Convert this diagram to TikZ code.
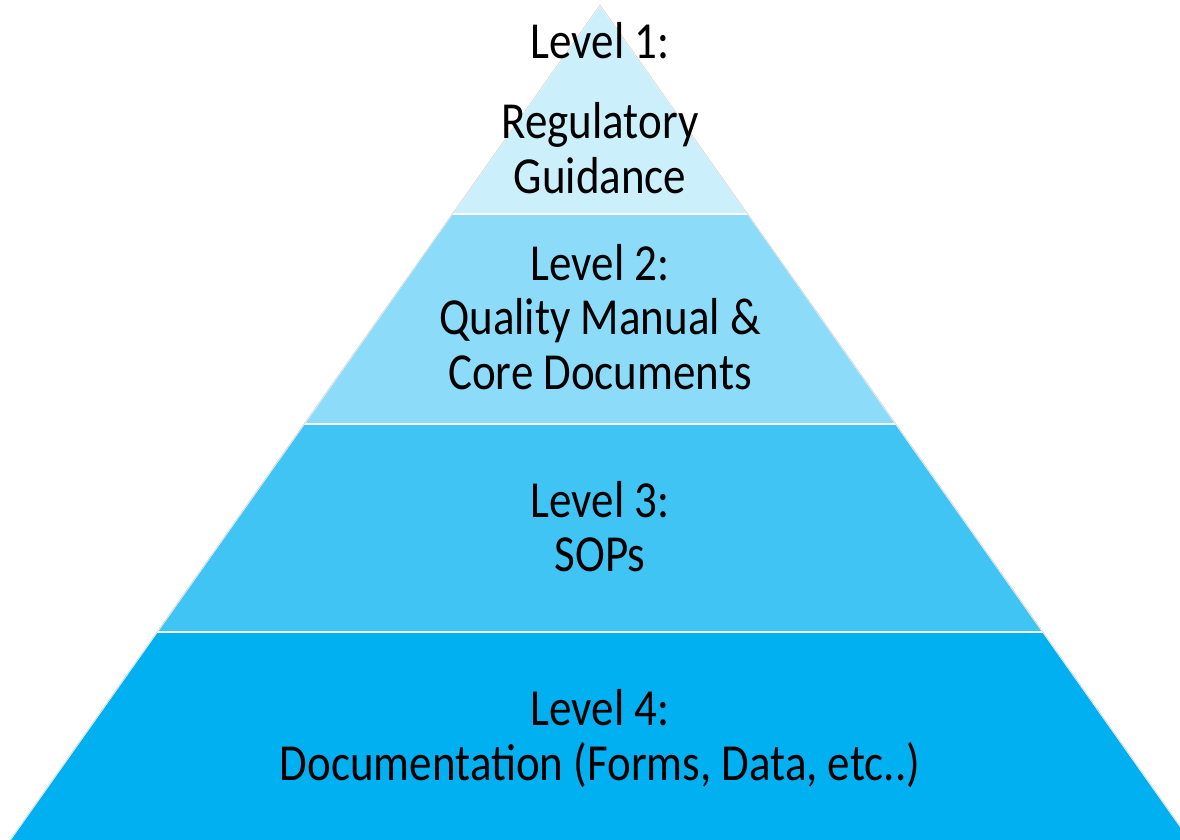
\documentclass[tikz,border=0pt]{standalone}
\usepackage{fontspec}
\setmainfont{Carlito}[FakeStretch=0.865]
\usetikzlibrary{calc}
\definecolor{lvlblue}{RGB}{0,176,240}
\tikzset{band/.style = {draw=white, line width=1.5pt, line join=round},%
  lbl/.style = {anchor=base, inner sep=0pt, font=\fontsize{52}{56}\selectfont}}

\begin{document}
\begin{tikzpicture}[x=1pt,y=-1pt]
    \useasboundingbox (0,0) rectangle (1180,839);
    \clip (0,0) rectangle (1180,839);
    % the four bands of the pyramid, top to bottom
    \fill[white] (0,0) rectangle (1180,839);
    \draw[band,fill=lvlblue!20] (600,5) -- (748,214) -- (452,214) -- cycle;
    \draw[band,fill=lvlblue!45] (452,214) -- (748,214) -- (896,424) -- (304,424) -- cycle;
    \draw[band,fill=lvlblue!75] (304,424) -- (896,424) -- (1043,632) -- (157,632) -- cycle;
    \draw[band,fill=lvlblue] (157,632) -- (1043,632) -- (1193.5,845) -- (6.5,845) -- cycle;
    \draw[gray!35,line width=0.6pt] (6.5,845) -- (600,5) -- (1193.5,845);
    % labels
    \node[lbl] (lvlone) at (600,58) {Level 1:};
    \node[lbl] (regul) at (600,138) {Regulatory};
    \node[lbl] (guid) at (600,193) {Guidance};
    \node[lbl] (lvltwo) at (600,280) {Level 2:};
    \node[lbl] (qman) at (600,334) {Quality Manual \&};
    \node[lbl] (coredoc) at (600,389) {Core Documents};
    \node[lbl] (lvlthree) at (600,517) {Level 3:};
    \node[lbl] (sops) at (600,571) {SOPs};
    \node[lbl] (lvlfour) at (600,725) {Level 4:};
    \node[lbl] (docum) at (600,780) {Documentation (Forms, Data, etc..)};
  \end{tikzpicture}
\end{document}
